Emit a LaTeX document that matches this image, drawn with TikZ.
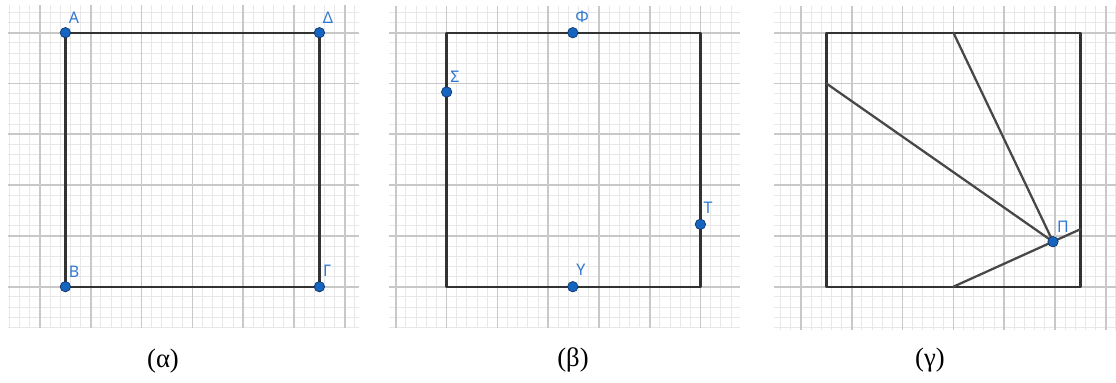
\documentclass[tikz,border=0pt]{standalone}
\usepackage{fontspec}
\setmainfont{Liberation Serif}
\newfontfamily\lblfont{Noto Sans}
\definecolor{ptblue}{RGB}{21,101,192}
\definecolor{ptedge}{RGB}{15,50,100}
\definecolor{lblblue}{RGB}{50,120,210}
\definecolor{segcol}{RGB}{50,50,50}
\definecolor{majorcol}{RGB}{200,200,200}
\definecolor{minorcol}{RGB}{232,232,232}
\tikzset{
  minorline/.style={draw=minorcol, line width=0.75pt},
  majorline/.style={draw=majorcol, line width=1.25pt},
  seg/.style={draw=segcol, line width=1.7pt, line cap=round, line join=round},
  pt/.style={circle, fill=ptblue, draw=ptedge, line width=0.5pt, minimum size=7.8pt, inner sep=0pt},
  lbl/.style={text=lblblue, font=\lblfont\fontsize{12}{14}\selectfont, inner sep=0pt},
  captext/.style={font=\fontsize{20}{24}\selectfont, inner sep=0pt}
}
% grid: #1 x0, #2 x1, #3 y0, #4 y1, #5 x of a major line, #6 y of a major line
\newcommand\panelgrid[6]{%
  \begin{scope}
    \clip (#1,#3) rectangle (#2,#4);
    \foreach \i in {-40,...,40} {
      \draw[minorline] ({#5+10.16*\i},#3) -- ({#5+10.16*\i},#4);
      \draw[minorline] (#1,{#6+10.16*\i}) -- (#2,{#6+10.16*\i});
    }
    \foreach \i in {-8,...,8} {
      \draw[majorline] ({#5+50.8*\i},#3) -- ({#5+50.8*\i},#4);
      \draw[majorline] (#1,{#6+50.8*\i}) -- (#2,{#6+50.8*\i});
    }
  \end{scope}}
\begin{document}
\begin{tikzpicture}[x=0.75pt, y=-0.75pt]
\useasboundingbox (0,0) rectangle (1116,382);
\fill[white] (0,0) rectangle (1116,382);

% grids
\panelgrid{8}{359}{5}{328}{40}{32.7}
\panelgrid{389}{740}{6}{328}{446.6}{32.7}
\panelgrid{774}{1116}{6}{330}{801}{32.7}

% ---- panel (alpha)
\coordinate (A) at (65.4,32.7);
\coordinate (D) at (319.4,32.7);
\coordinate (G) at (319.4,286.7);
\coordinate (B) at (65.4,286.7);
\draw[seg] (A) -- (D) -- (G) -- (B) -- cycle;
\node[pt] (pA) at (A) {};
\node[pt] (pD) at (D) {};
\node[pt] (pG) at (G) {};
\node[pt] (pB) at (B) {};
\node[lbl] (lA) at (74,18) {Α};
\node[lbl] (lD) at (328,18) {Δ};
\node[lbl] (lB) at (74,272) {Β};
\node[lbl] (lG) at (327,271) {Γ};
\node[captext] (ca) at (163,361) {(α)};

% ---- panel (beta)
\coordinate (b1) at (446.6,32.7);
\coordinate (b2) at (700.4,32.7);
\coordinate (b3) at (700.4,286.7);
\coordinate (b4) at (446.6,286.7);
\draw[seg] (b1) -- (b2) -- (b3) -- (b4) -- cycle;
\coordinate (F) at (572.8,32.7);
\coordinate (S) at (446.6,92);
\coordinate (T) at (700.4,224.3);
\coordinate (Y) at (572.8,286.7);
\node[pt] (pF) at (F) {};
\node[pt] (pS) at (S) {};
\node[pt] (pT) at (T) {};
\node[pt] (pY) at (Y) {};
\node[lbl] (lF) at (582,17) {Φ};
\node[lbl] (lS) at (455,77) {Σ};
\node[lbl] (lT) at (708,208) {Τ};
\node[lbl] (lY) at (581,270) {Υ};
\node[captext] (cb) at (573,360) {(β)};

% ---- panel (gamma)
\coordinate (g1) at (826.4,32.7);
\coordinate (g2) at (1080.4,32.7);
\coordinate (g3) at (1080.4,286.7);
\coordinate (g4) at (826.4,286.7);
\draw[seg] (g1) -- (g2) -- (g3) -- (g4) -- cycle;
\coordinate (P) at (1053,241.7);
\coordinate (gtop) at (953.4,32.7);
\coordinate (gleft) at (826.4,83.5);
\coordinate (gbot) at (953.4,286.7);
\coordinate (gright) at (1080.4,229.2);
\draw[seg, draw=segcol!90] (gleft) -- (P);
\draw[seg, draw=segcol!90] (gtop) -- (P);
\draw[seg, draw=segcol!90] (gbot) -- (gright);
\node[pt] (pP) at (P) {};
\node[lbl] (lP) at (1063,227) {Π};
\node[captext] (cg) at (930,360) {(γ)};
\end{tikzpicture}
\end{document}
